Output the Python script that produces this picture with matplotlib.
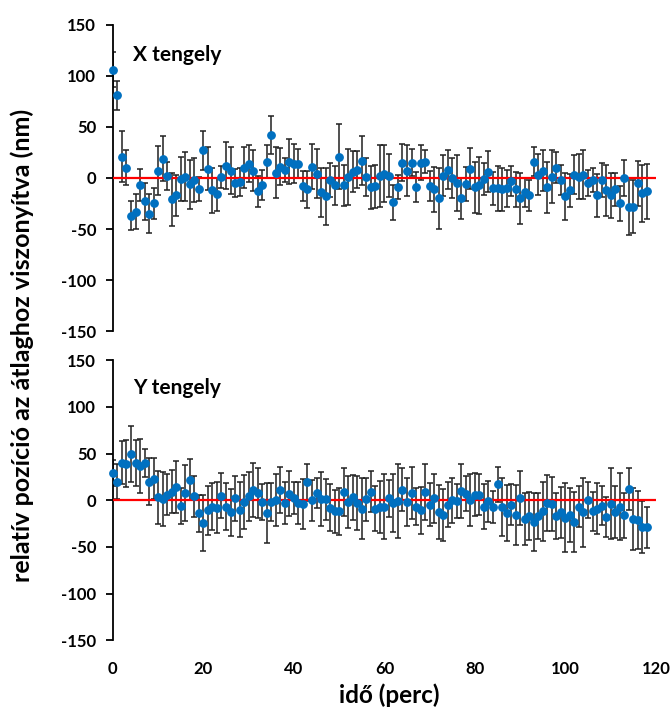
import matplotlib.pyplot as plt
import numpy as np

# idő (perc), egy mérés percenként
ido = np.arange(0, 119)

# X tengely: relatív pozíció (nm) és hiba
x_pos = [106, 81, 21, 10, -37, -33, -7, -23, -35, -25, 7, 19, 2, -21, -17, -1, 1, -6, -2, -11,
         27, 9, -12, -16, 1, 12, 7, -5, -4, 10, 14, 7, -13, -7, 16, 42, 5, 11, 8, 16,
         14, 14, -8, -11, 11, 4, -14, -18, -2, -7, 21, -7, 1, 6, 8, 17, 1, -9, -8, 2,
         4, 2, -24, -9, 15, 7, 15, -9, 15, 16, -8, -11, -20, 2, 8, 0, -5, -20, -6, 9,
         -9, -7, -1, 6, -10, -10, -11, -10, -3, -11, -20, -14, -17, 16, 3, 7, -9, 1, 10, -2,
         -18, -12, 3, 1, 3, -5, -2, -17, -2, -12, -17, -11, -25, 0, -28, -28, -5, -15, -13]
x_err = [17, 14, 25, 17, 14, 17, 16, 18, 19, 15, 24, 22, 14, 26, 20, 22, 24, 24, 22, 12,
         19, 21, 22, 16, 11, 23, 23, 14, 14, 20, 18, 20, 15, 15, 16, 19, 25, 18, 12, 22,
         19, 14, 15, 18, 22, 24, 24, 28, 17, 19, 32, 20, 27, 20, 18, 24, 19, 21, 21, 30,
         28, 21, 17, 12, 18, 25, 13, 15, 17, 11, 15, 22, 30, 20, 19, 20, 27, 20, 17, 20,
         25, 28, 16, 20, 16, 22, 21, 18, 15, 17, 25, 14, 15, 14, 20, 20, 25, 26, 15, 15,
         23, 16, 19, 22, 24, 13, 12, 21, 17, 25, 22, 16, 17, 18, 28, 26, 22, 28, 27]

# Y tengely
y_pos = [29, 20, 40, 39, 49, 40, 37, 40, 20, 23, 3, 1, 6, 9, 14, -6, 8, 22, 4, -14,
         -24, -11, -7, -8, 5, -7, -13, 2, -10, -2, 4, 11, 8, -2, -14, -2, 0, 11, -3, 7,
         2, -3, -4, 19, 0, 8, 1, 1, -8, -12, -12, 9, -2, 3, -3, -9, 1, 9, -9, -7,
         -7, 2, -3, -1, 11, -2, 8, -7, -11, 9, -5, 2, -13, -16, -5, 0, -1, 10, 7, 0,
         6, 6, -7, -1, -7, 17, -7, -14, -5, -16, 2, -20, -17, -23, -17, -12, -3, -4, -17, -13,
         -19, -16, -23, -7, -13, 0, -12, -9, -6, -18, -4, -13, -7, -16, 12, -20, -21, -29, -29]
y_err = [14, 19, 23, 25, 30, 25, 29, 15, 25, 22, 28, 29, 22, 23, 28, 19, 30, 22, 22, 20,
         30, 26, 25, 27, 24, 25, 25, 24, 29, 29, 26, 29, 27, 19, 32, 20, 28, 25, 23, 24,
         17, 22, 27, 20, 22, 16, 29, 22, 25, 23, 25, 26, 28, 24, 29, 33, 23, 22, 24, 28,
         35, 20, 31, 40, 23, 26, 28, 20, 25, 30, 23, 26, 29, 28, 24, 24, 18, 29, 19, 28,
         23, 22, 24, 22, 17, 19, 31, 30, 22, 32, 29, 28, 26, 31, 25, 32, 30, 29, 25, 27,
         37, 29, 32, 22, 37, 19, 21, 27, 21, 21, 38, 28, 36, 24, 23, 33, 31, 28, 22]

panelek = ['X tengely', 'Y tengely']
y_ticks = [-150, -100, -50, 0, 50, 100, 150]
x_ticks = [0, 20, 40, 60, 80, 100, 120]

plt.rcParams['font.family'] = ['Lato', 'DejaVu Sans']
plt.rcParams['font.weight'] = 'bold'
plt.rcParams['axes.unicode_minus'] = False

fig = plt.figure(figsize=(6.72, 7.09), dpi=100)
ax1 = fig.add_axes([0.168, 0.533, 0.808, 0.432])
ax2 = fig.add_axes([0.168, 0.097, 0.808, 0.395])

for ax, pos, err, cim in [(ax1, x_pos, x_err, panelek[0]), (ax2, y_pos, y_err, panelek[1])]:
    ax.errorbar(ido, pos, yerr=err, fmt='none', ecolor='#202020', elinewidth=1.1,
                capsize=2.5, capthick=1.1, zorder=2)
    ax.plot([0, 120], [0, 0], color='red', linewidth=1.6, zorder=3)
    ax.plot(ido, pos, 'o', color='#0070C0', markersize=5.3, zorder=4, clip_on=False)
    ax.set_xlim(0, 120)
    ax.set_ylim(-150, 150)
    ax.set_yticks(y_ticks)
    ax.set_xticks(x_ticks)
    for s in ['top', 'right', 'bottom']:
        ax.spines[s].set_visible(False)
    ax.spines['left'].set_linewidth(1.3)
    ax.tick_params(axis='y', direction='out', length=5, width=1.3, labelsize=12, pad=7)
    ax.tick_params(axis='x', length=0, labelsize=12, pad=15)
    ax.text(0.037, 0.9, cim, transform=ax.transAxes, fontsize=15, fontweight='bold',
            ha='left', va='center')

ax1.tick_params(axis='x', labelbottom=False)

fig.text(0.033, 0.513, 'relatív pozíció az átlaghoz viszonyítva (nm)', rotation=90,
         ha='center', va='center', fontsize=18, fontweight='bold')
fig.text(0.579, 0.019, 'idő (perc)', ha='center', va='center', fontsize=17.5, fontweight='bold')

fig.savefig('out.png', dpi=100)
